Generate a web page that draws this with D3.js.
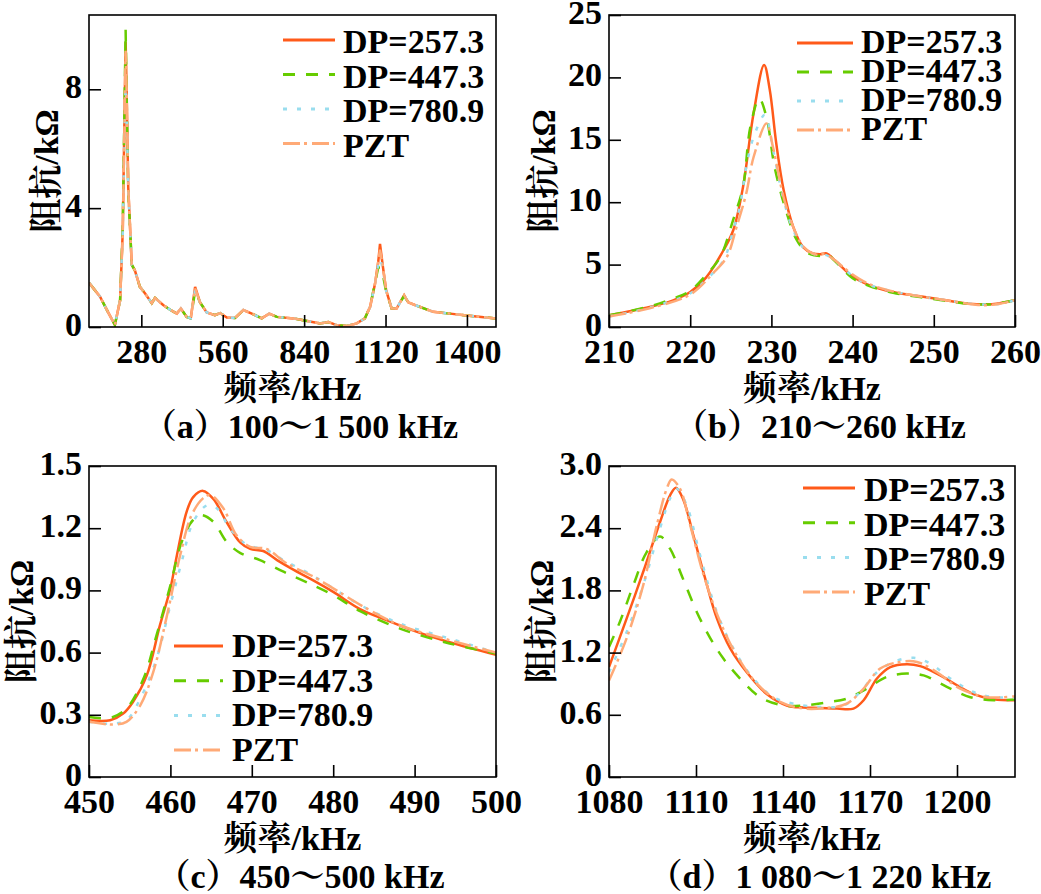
<!DOCTYPE html>
<meta charset="utf-8">
<script src="https://d3js.org/d3.v7.min.js"></script>
<style>
  body { margin: 0; background: #fff; }
</style>
<div id="chart"></div>
<script>

// ---- data ----
var seriesNames = ["DP=257.3", "DP=447.3", "DP=780.9", "PZT"];

// (a) 100~1500 kHz, one frequency grid for all four curves
var freqA = [100,138,165,189,207,216,222,226,229,235,247,258,275,293,316,327,355,379,402,416,436,450,465,482,505,533,551,574,602,631,660,694,720,746,803,837,895,923,952,986,1021,1049,1067,1084,1095,1101,1110,1122,1141,1158,1184,1198,1221,1284,1342,1399,1500];
var aDP257 = [1.49,1.02,0.51,0.07,0.9,3.2,7.0,9.6,8.2,4.7,2.1,1.9,1.35,1.13,0.8,0.98,0.74,0.58,0.45,0.62,0.34,0.29,1.35,0.83,0.49,0.4,0.47,0.32,0.3,0.57,0.45,0.29,0.45,0.34,0.29,0.23,0.12,0.17,0.06,0.03,0.12,0.29,0.68,1.46,2.2,2.8,2.1,1.24,0.62,0.62,1.07,0.83,0.74,0.51,0.45,0.39,0.29];
var aDP447 = [1.49,1.02,0.51,0.07,0.9,3.3,7.3,10.0,8.0,4.6,2.1,1.9,1.35,1.13,0.8,0.98,0.74,0.58,0.45,0.62,0.34,0.29,1.2,0.83,0.49,0.4,0.47,0.32,0.3,0.57,0.45,0.29,0.45,0.34,0.29,0.23,0.12,0.17,0.06,0.03,0.12,0.29,0.7,1.5,2.0,2.0,1.8,1.2,0.62,0.62,1.05,0.83,0.74,0.51,0.45,0.39,0.29];
var aDP780 = [1.49,1.02,0.51,0.07,0.9,3.1,6.6,8.3,7.6,4.6,2.1,1.9,1.35,1.13,0.8,0.98,0.74,0.58,0.45,0.62,0.34,0.29,1.25,0.83,0.49,0.4,0.47,0.32,0.3,0.57,0.45,0.29,0.45,0.34,0.29,0.23,0.12,0.17,0.06,0.03,0.12,0.29,0.68,1.46,2.1,2.3,2.0,1.22,0.62,0.62,1.07,0.83,0.74,0.51,0.45,0.39,0.29];
var aPZT   = [1.49,1.02,0.51,0.07,0.9,3.1,6.8,9.3,8.1,4.7,2.1,1.9,1.35,1.13,0.8,0.98,0.74,0.58,0.45,0.62,0.34,0.29,1.3,0.83,0.49,0.4,0.47,0.32,0.3,0.57,0.45,0.29,0.45,0.34,0.29,0.23,0.12,0.17,0.06,0.03,0.12,0.29,0.68,1.46,2.2,2.6,2.1,1.24,0.62,0.62,1.07,0.83,0.74,0.51,0.45,0.39,0.29];

// (b) 210~260 kHz
var bF257 = [210,215,217.9,220,222,224.1,225.3,226.5,227.8,229.1,229.8,230.6,231.5,232.7,233.9,235.1,236,236.8,237.8,240.1,242.1,245,248.3,251.5,254.4,256.5,257.7,260];
var bV257 = [0.94,1.6,2.14,2.8,4.0,6.15,7.75,11.2,17.1,21.0,19.0,14.7,11.0,8.0,6.4,5.9,5.83,5.9,5.35,4.0,3.34,2.8,2.46,2.14,1.87,1.82,1.87,2.14];
var bF447 = [210,215,218,220,222,223.7,225.3,226.5,227.4,228.5,229.4,230.4,231.9,233.1,234.3,235.3,236.2,236.9,237.8,240,242,245,248.3,251.5,254.4,256.5,257.7,260];
var bV447 = [0.94,1.65,2.3,2.9,4.2,5.6,8.6,11.2,16.0,18.3,16.8,12.8,9.1,7.0,6.0,5.75,5.7,5.8,5.3,3.9,3.3,2.75,2.4,2.1,1.85,1.8,1.87,2.14];
var bF780 = [210,215,220,222,224.1,225.3,226.1,226.9,227.8,229.2,230.2,231.5,232.7,234,235.5,236.5,237.5,240,242,245,248.3,251.5,254.4,256.5,258,260];
var bV780 = [0.85,1.55,2.7,3.8,5.35,7.75,9.6,12.8,15.2,17.0,14.2,10.2,7.75,6.3,5.8,5.8,5.5,4.1,3.4,2.85,2.45,2.14,1.87,1.8,1.85,2.14];
var bFPZT = [210,215,220,222.8,224.5,225.7,226.9,227.8,229.4,230.2,231.5,232.7,234,235.5,236.5,237.5,240,242,245,248.3,251.5,254.4,256.5,258,260];
var bVPZT = [0.85,1.5,2.6,4.3,5.6,8.0,10.7,13.6,16.3,14.4,10.4,8.0,6.4,5.8,5.85,5.5,4.2,3.45,2.85,2.45,2.14,1.85,1.75,1.85,2.14];

// (c) 450~500 kHz
var cF257 = [450,452.6,454.2,455.4,457.1,458.7,460,460.8,462,462.8,464,465.3,466.9,468.6,469.8,471.4,473.1,475.1,477.1,480,483.3,486.6,490.3,494.3,500];
var cV257 = [0.274,0.274,0.306,0.362,0.49,0.73,0.91,1.07,1.28,1.35,1.38,1.34,1.23,1.13,1.10,1.09,1.046,1.0,0.958,0.893,0.81,0.756,0.70,0.65,0.59];
var cF447 = [450,452.6,454.6,456.7,458.3,460,461.4,462.8,463.8,465.3,466.9,468.6,471,473.9,476.7,480,483.3,488.2,494.3,500];
var cV447 = [0.29,0.285,0.33,0.475,0.684,0.925,1.135,1.24,1.263,1.23,1.135,1.08,1.046,0.99,0.94,0.877,0.80,0.716,0.644,0.596];
var cF780 = [450,452.6,454.6,456.3,458.3,460,461.4,462.8,464.5,465.7,467.3,469.4,471.8,473.9,477.1,480,483.3,488.2,494.3,500];
var cV780 = [0.266,0.257,0.274,0.378,0.571,0.83,1.04,1.23,1.31,1.296,1.2,1.12,1.095,1.046,0.98,0.91,0.83,0.74,0.668,0.6];
var cFPZT = [450,453,454.6,456.3,457.9,459.5,461.2,462.6,464,464.9,466.5,468.1,469.8,471.8,474.3,477.6,480,484.1,488.2,494.3,500];
var cVPZT = [0.266,0.253,0.266,0.346,0.507,0.765,1.07,1.263,1.344,1.36,1.296,1.167,1.11,1.1,1.03,0.966,0.91,0.813,0.732,0.66,0.6];

// (d) 1080~1220 kHz
var dF257 = [1080,1086.1,1091.8,1097.6,1101.1,1103.1,1105.7,1109.1,1113.1,1117.2,1121.8,1127.5,1134.4,1141.3,1147.1,1152.8,1158.6,1164.3,1167.8,1172.4,1177,1182.7,1187.3,1194.2,1200,1205.7,1212.6,1220];
var dV257 = [1.06,1.53,1.98,2.46,2.72,2.79,2.67,2.33,1.92,1.53,1.24,1.01,0.80,0.69,0.67,0.666,0.66,0.66,0.74,0.95,1.06,1.088,1.07,0.98,0.885,0.80,0.75,0.74];
var dF447 = [1080,1083.8,1088.4,1093,1097.6,1101.1,1105.7,1110.3,1114.9,1119.5,1125.2,1132.1,1140.2,1147.1,1155.1,1162,1168.9,1175.8,1182.7,1188.5,1196.5,1204.6,1212.6,1220];
var dV447 = [1.255,1.50,1.85,2.17,2.32,2.2,1.9,1.59,1.34,1.14,0.95,0.77,0.69,0.69,0.72,0.756,0.853,0.966,0.998,0.98,0.87,0.77,0.74,0.747];
var dF780 = [1080,1086.1,1091.8,1097.6,1101.1,1103.4,1106.8,1111.4,1117.2,1122.9,1129.8,1136.7,1143.6,1152.8,1160.9,1166.6,1172.4,1178.1,1185,1190.8,1197.7,1205.7,1212.6,1220];
var dV780 = [1.01,1.40,1.85,2.4,2.69,2.78,2.62,2.14,1.59,1.24,0.95,0.77,0.708,0.676,0.69,0.82,1.01,1.11,1.15,1.094,0.95,0.82,0.77,0.77];
var dFPZT = [1080,1086.1,1091.8,1096.5,1099.9,1101.6,1104.5,1108,1112.6,1118.3,1124.1,1131,1139,1147.1,1155.1,1162,1167.8,1173.5,1180.4,1186.2,1193.1,1201.1,1210.3,1220];
var dVPZT = [0.93,1.34,1.85,2.43,2.78,2.87,2.78,2.43,1.95,1.50,1.17,0.90,0.724,0.66,0.666,0.708,0.853,1.046,1.11,1.11,1.01,0.853,0.77,0.78];

// ticks
var xTicksA = [280,560,840,1120,1400], yTicksA = [0,4,8];
var xTicksB = [210,220,230,240,250,260], yTicksB = [0,5,10,15,20,25];
var xTicksC = [450,460,470,480,490,500], yTicksC = [0,0.3,0.6,0.9,1.2,1.5];
var xTicksD = [1080,1110,1140,1170,1200], yTicksD = [0,0.6,1.2,1.8,2.4,3.0];

var captions = ["（a）100～1 500 kHz", "（b）210～260 kHz", "（c）450～500 kHz", "（d）1 080～1 220 kHz"];

// ---- styles ----
var colors = ["#ff5a1a", "#66cc00", "#99ddee", "#ffaa77"];
var dashes = [null, "12,11", "4,10", "17,4,3,5"];
var FONT = "'Liberation Serif', 'Noto Serif CJK SC', serif";
var FS = 34;

var svg = d3.select("#chart").append("svg")
  .attr("width", 1041)
  .attr("height", 894);

function zip(f, v) { return f.map(function(d, i) { return [d, v[i]]; }); }

// all text goes through here so the font sticks
function label(sel) {
  return sel.style("font-family", FONT).style("font-size", FS + "px")
    .style("font-weight", "bold").attr("fill", "#000");
}

var panels = [
  { box: [89, 496, 15, 327], xDom: [100, 1500], yDom: [0, 10.5],
    xTicks: xTicksA, yTicks: yTicksA, fmt: function(d) { return d; },
    yTitleX: 58, curve: d3.curveLinear,
    leg: { l0: 283, l1: 335, tx: 343, y: 40, step: 34.5, dy: 13 },
    data: [zip(freqA, aDP257), zip(freqA, aDP447), zip(freqA, aDP780), zip(freqA, aPZT)],
    cap: captions[0] },
  { box: [609, 1015, 15, 327], xDom: [210, 260], yDom: [0, 25],
    xTicks: xTicksB, yTicks: yTicksB, fmt: function(d) { return d; },
    yTitleX: 555, curve: d3.curveCatmullRom,
    leg: { l0: 797, l1: 853, tx: 861, y: 43, step: 29, dy: 10 },
    data: [zip(bF257, bV257), zip(bF447, bV447), zip(bF780, bV780), zip(bFPZT, bVPZT)],
    cap: captions[1] },
  { box: [89, 496, 466, 777], xDom: [450, 500], yDom: [0, 1.5],
    xTicks: xTicksC, yTicks: yTicksC, fmt: function(d) { return d === 0 ? "0" : d.toFixed(1); },
    yTitleX: 33, curve: d3.curveCatmullRom,
    leg: { l0: 174, l1: 223, tx: 232, y: 646, step: 34.7, dy: 11 },
    data: [zip(cF257, cV257), zip(cF447, cV447), zip(cF780, cV780), zip(cFPZT, cVPZT)],
    cap: captions[2] },
  { box: [609, 1015, 466, 777], xDom: [1080, 1220], yDom: [0, 3],
    xTicks: xTicksD, yTicks: yTicksD, fmt: function(d) { return d === 0 ? "0" : d.toFixed(1); },
    yTitleX: 553, curve: d3.curveCatmullRom,
    leg: { l0: 803, l1: 855, tx: 864, y: 488, step: 34.7, dy: 13 },
    data: [zip(dF257, dV257), zip(dF447, dV447), zip(dF780, dV780), zip(dFPZT, dVPZT)],
    cap: captions[3] }
];

panels.forEach(function(p, pi) {
  var x0 = p.box[0], x1 = p.box[1], y0 = p.box[2], y1 = p.box[3];
  var x = d3.scaleLinear().domain(p.xDom).range([x0, x1]);
  var y = d3.scaleLinear().domain(p.yDom).range([y1, y0]);
  var g = svg.append("g");

  g.append("clipPath").attr("id", "clip" + pi)
    .append("rect").attr("x", x0).attr("y", y0).attr("width", x1 - x0).attr("height", y1 - y0);

  // curves
  var line = d3.line()
    .x(function(d) { return x(d[0]); })
    .y(function(d) { return y(d[1]); })
    .curve(p.curve);
  p.data.forEach(function(s, i) {
    g.append("path")
      .attr("clip-path", "url(#clip" + pi + ")")
      .attr("d", line(s))
      .attr("fill", "none")
      .attr("stroke", colors[i])
      .attr("stroke-width", 2.5)
      .attr("stroke-dasharray", dashes[i]);
  });

  // axes with inward ticks
  var xa = g.append("g")
    .attr("transform", "translate(0," + y1 + ")")
    .call(d3.axisBottom(x).tickValues(p.xTicks).tickSize(-12).tickFormat(function(d) { return d; }));
  xa.select(".domain").remove();
  xa.selectAll("line").attr("stroke", "#000").attr("stroke-width", 1.6);
  xa.selectAll("text").attr("y", 36).attr("dy", null).call(label);

  var ya = g.append("g")
    .attr("transform", "translate(" + x0 + ",0)")
    .call(d3.axisLeft(y).tickValues(p.yTicks).tickSize(-12).tickFormat(p.fmt));
  ya.select(".domain").remove();
  ya.selectAll("line").attr("stroke", "#000").attr("stroke-width", 1.6);
  ya.selectAll("text").attr("x", -7).attr("dy", "0.25em").call(label);

  // frame
  g.append("rect")
    .attr("x", x0).attr("y", y0)
    .attr("width", x1 - x0).attr("height", y1 - y0)
    .attr("fill", "none").attr("stroke", "#000").attr("stroke-width", 1.6);

  // titles
  g.append("text")
    .attr("x", (x0 + x1) / 2).attr("y", y1 + 73)
    .attr("text-anchor", "middle").call(label)
    .text("频率/kHz");
  g.append("text")
    .attr("transform", "translate(" + p.yTitleX + "," + ((y0 + y1) / 2) + ")rotate(-90)")
    .attr("text-anchor", "middle").call(label)
    .text("阻抗/kΩ");
  g.append("text")
    .attr("x", (x0 + x1) / 2 + 8).attr("y", y1 + 111)
    .attr("text-anchor", "middle").call(label)
    .text(p.cap);

  // legend
  seriesNames.forEach(function(name, i) {
    var ly = p.leg.y + i * p.leg.step;
    g.append("line")
      .attr("x1", p.leg.l0).attr("x2", p.leg.l1)
      .attr("y1", ly).attr("y2", ly)
      .attr("stroke", colors[i]).attr("stroke-width", 3)
      .attr("stroke-dasharray", dashes[i]);
    g.append("text")
      .attr("x", p.leg.tx).attr("y", ly + p.leg.dy)
      .call(label)
      .text(name);
  });
});

</script>
